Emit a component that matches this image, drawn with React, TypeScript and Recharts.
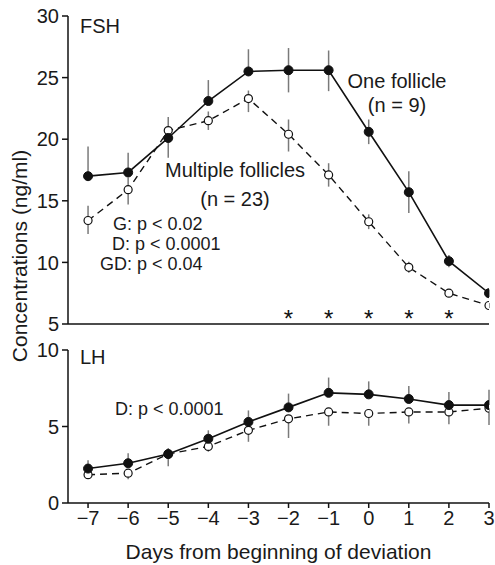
import React from "react";
import {
  ComposedChart,
  Line,
  Scatter,
  XAxis,
  YAxis,
  ErrorBar,
} from "recharts";

// days relative to deviation
const days = [-7, -6, -5, -4, -3, -2, -1, 0, 1, 2, 3];
const dayLabels = ["\u22127", "\u22126", "\u22125", "\u22124", "\u22123", "\u22122", "\u22121", "0", "1", "2", "3"];

// FSH (ng/ml)
const fshOne = [17.0, 17.3, 20.1, 23.1, 25.5, 25.6, 25.6, 20.6, 15.7, 10.1, 7.5];
const fshOneErr = [[0, 2.4], [0, 1.6], [1.6, 0], [0, 1.7], [0, 1.8], [1.8, 1.8], [1.7, 1.6], [1.0, 1.0], [1.7, 1.7], [0.5, 0.5], [0.3, 0.3]];
const fshMulti = [13.4, 15.9, 20.7, 21.5, 23.3, 20.4, 17.1, 13.3, 9.6, 7.5, 6.5];
const fshMultiErr = [[1.1, 1.2], [1.2, 1.0], [0, 1.1], [0.75, 0.75], [1.1, 0.65], [1.4, 1.2], [0.95, 0.95], [0.6, 0.6], [0.45, 0.45], [0.3, 0.3], [0.2, 0.2]];
const fshTicks = [5, 10, 15, 20, 25, 30];
const sigDays = [-2, -1, 0, 1, 2];
const starLevel = 5.7;

// LH (ng/ml)
const lhOne = [2.25, 2.6, 3.2, 4.2, 5.3, 6.25, 7.2, 7.1, 6.8, 6.4, 6.4];
const lhOneErr = [[0, 0.55], [0, 0.65], [0.8, 0], [0, 0.55], [0, 0.75], [0, 0.9], [0, 1.0], [0, 0.85], [0, 0.85], [0, 0.85], [0, 1.0]];
const lhMulti = [1.85, 1.95, 3.2, 3.7, 4.75, 5.5, 5.95, 5.85, 5.95, 5.95, 6.2];
const lhMultiErr = [[0.25, 0], [0.4, 0], [0, 0.4], [0.35, 0], [0.75, 0], [1.25, 0], [0.9, 0], [0.8, 0], [0.75, 0], [0.8, 0], [1.1, 0]];
const lhTicks = [0, 5, 10];

const FONT = "'Liberation Sans', Arial, Helvetica, sans-serif";
const INK = "#111";
const ERR = "#7a7a7a";

const fshData = days.map((d, i) => ({
  day: d,
  one: fshOne[i],
  oneErr: fshOneErr[i],
  multi: fshMulti[i],
  multiErr: fshMultiErr[i],
}));
const lhData = days.map((d, i) => ({
  day: d,
  one: lhOne[i],
  oneErr: lhOneErr[i],
  multi: lhMulti[i],
  multiErr: lhMultiErr[i],
}));
const starData = sigDays.map((d) => ({ day: d, star: starLevel }));

const fmtDay = (v: number) => dayLabels[days.indexOf(v)] ?? String(v);

const axisStroke = { stroke: INK, strokeWidth: 1.5 };
const tickStyle = { fontSize: 20, fill: "#1a1a1a" };

const Star = (props: any) => (
  <text x={props.cx} y={props.cy} dy={12} textAnchor="middle" fontSize={24} fill={INK}>
    *
  </text>
);

export default function App() {
  return (
    <div
      style={{
        position: "absolute",
        left: 0,
        top: 0,
        width: 495,
        height: 565,
        background: "#fff",
        fontFamily: FONT,
      }}
    >
      <div style={{ position: "absolute", left: 0, top: 0 }}>
        <ComposedChart width={495} height={334} data={fshData} margin={{ top: 16, right: 6, bottom: 0, left: 0 }}>
          <XAxis
            type="number"
            dataKey="day"
            domain={[-7.5, 3]}
            ticks={days}
            interval={0}
            tick={false}
            tickSize={5}
            height={10}
            axisLine={axisStroke}
            tickLine={axisStroke}
            allowDataOverflow
          />
          <YAxis
            type="number"
            domain={[5, 30]}
            ticks={fshTicks}
            interval={0}
            width={68}
            tickSize={6}
            tickMargin={3}
            tick={tickStyle}
            axisLine={axisStroke}
            tickLine={axisStroke}
            allowDataOverflow
          />
          <Line
            dataKey="multi"
            type="linear"
            stroke={INK}
            strokeWidth={1.4}
            strokeDasharray="7 5"
            dot={{ r: 4, fill: "#fff", stroke: INK, strokeWidth: 1.2, strokeDasharray: "" }}
            activeDot={false}
            isAnimationActive={false}
          >
            <ErrorBar dataKey="multiErr" width={0} stroke={ERR} strokeWidth={1.5} direction="y" />
          </Line>
          <Line
            dataKey="one"
            type="linear"
            stroke={INK}
            strokeWidth={1.6}
            dot={{ r: 4.5, fill: INK, stroke: INK, strokeWidth: 1 }}
            activeDot={false}
            isAnimationActive={false}
          >
            <ErrorBar dataKey="oneErr" width={0} stroke={ERR} strokeWidth={1.5} direction="y" />
          </Line>
          <Scatter data={starData} dataKey="star" shape={Star} isAnimationActive={false} />
        </ComposedChart>
      </div>

      <div style={{ position: "absolute", left: 0, top: 330 }}>
        <ComposedChart width={495} height={235} data={lhData} margin={{ top: 20, right: 6, bottom: 0, left: 0 }}>
          <XAxis
            type="number"
            dataKey="day"
            domain={[-7.5, 3]}
            ticks={days}
            interval={0}
            tickFormatter={fmtDay}
            tick={tickStyle}
            tickSize={5}
            tickMargin={3}
            height={62}
            axisLine={axisStroke}
            tickLine={axisStroke}
            allowDataOverflow
            label={{
              value: "Days from beginning of deviation",
              position: "insideBottom",
              offset: 6,
              fontSize: 21,
              fill: "#1a1a1a",
            }}
          />
          <YAxis
            type="number"
            domain={[0, 10]}
            ticks={lhTicks}
            interval={0}
            width={68}
            tickSize={6}
            tickMargin={3}
            tick={tickStyle}
            axisLine={axisStroke}
            tickLine={axisStroke}
            allowDataOverflow
          />
          <Line
            dataKey="multi"
            type="linear"
            stroke={INK}
            strokeWidth={1.4}
            strokeDasharray="7 5"
            dot={{ r: 4, fill: "#fff", stroke: INK, strokeWidth: 1.2, strokeDasharray: "" }}
            activeDot={false}
            isAnimationActive={false}
          >
            <ErrorBar dataKey="multiErr" width={0} stroke={ERR} strokeWidth={1.5} direction="y" />
          </Line>
          <Line
            dataKey="one"
            type="linear"
            stroke={INK}
            strokeWidth={1.6}
            dot={{ r: 4.5, fill: INK, stroke: INK, strokeWidth: 1 }}
            activeDot={false}
            isAnimationActive={false}
          >
            <ErrorBar dataKey="oneErr" width={0} stroke={ERR} strokeWidth={1.5} direction="y" />
          </Line>
        </ComposedChart>
      </div>

      {/* titles and annotations */}
      <svg
        width={495}
        height={565}
        style={{ position: "absolute", left: 0, top: 0, pointerEvents: "none" }}
        fontFamily={FONT}
        fill="#1a1a1a"
      >
        <text x={27} y={256} fontSize={21} textAnchor="middle" transform="rotate(-90 27 256)">
          Concentrations (ng/ml)
        </text>
        <text x={80} y={33} fontSize={20}>FSH</text>
        <text x={397} y={88} fontSize={20} textAnchor="middle">One follicle</text>
        <text x={397} y={112} fontSize={20} textAnchor="middle">(n = 9)</text>
        <text x={235} y={177} fontSize={20} textAnchor="middle">Multiple follicles</text>
        <text x={235} y={206} fontSize={20} textAnchor="middle">(n = 23)</text>
        <text x={113} y={230} fontSize={18}>G: p &lt; 0.02</text>
        <text x={112} y={250} fontSize={18}>D: p &lt; 0.0001</text>
        <text x={100} y={270} fontSize={18}>GD: p &lt; 0.04</text>
        <text x={80} y={364} fontSize={20}>LH</text>
        <text x={115} y={415} fontSize={18}>D: p &lt; 0.0001</text>
      </svg>
    </div>
  );
}
